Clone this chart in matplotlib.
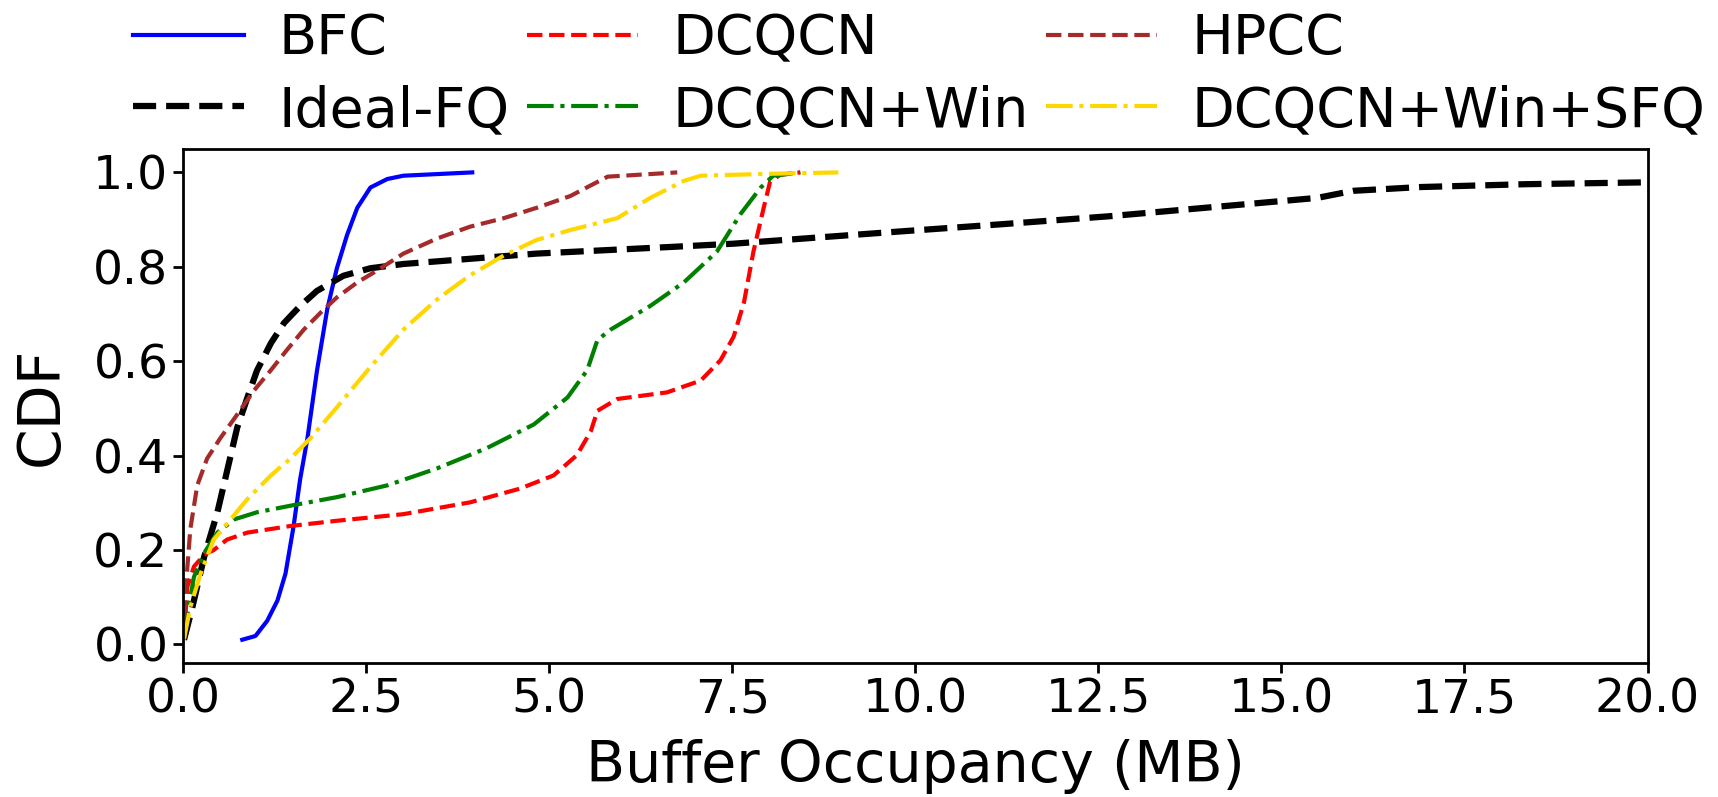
import matplotlib
matplotlib.use("Agg")
import matplotlib.pyplot as plt

bfc_x = [0.81, 0.99, 1.15, 1.29, 1.40, 1.51, 1.60, 1.70, 1.83, 1.97, 2.10, 2.24, 2.38, 2.56, 2.79, 3.01, 3.95]
bfc_y = [0.01, 0.018, 0.05, 0.093, 0.15, 0.25, 0.35, 0.437, 0.58, 0.71, 0.796, 0.867, 0.925, 0.968, 0.986, 0.993, 1.0]

ideal_x = [0.014, 0.13, 0.29, 0.47, 0.60, 0.74, 0.88, 1.01, 1.20, 1.38, 1.60, 1.83, 2.19, 2.56, 3.01, 3.92,
           4.83, 6.65, 7.52, 9.8, 11.16, 12.64, 15.49, 15.98, 16.9, 18.33, 20.0]
ideal_y = [0.01, 0.08, 0.186, 0.28, 0.366, 0.459, 0.523, 0.58, 0.638, 0.681, 0.717, 0.749, 0.781, 0.797, 0.806, 0.817,
           0.828, 0.842, 0.849, 0.875, 0.89, 0.907, 0.946, 0.961, 0.969, 0.975, 0.979]

dcqcn_x = [0.014, 0.06, 0.15, 0.29, 0.42, 0.60, 0.88, 1.47, 2.10, 3.01, 3.92, 4.60, 5.06, 5.38, 5.57, 5.66,
           5.93, 6.61, 7.07, 7.34, 7.52, 7.66, 7.79, 7.93, 8.02, 8.16, 8.43]
dcqcn_y = [0.014, 0.122, 0.165, 0.19, 0.2, 0.222, 0.237, 0.251, 0.262, 0.276, 0.301, 0.33, 0.358, 0.401, 0.452, 0.495,
           0.52, 0.534, 0.559, 0.602, 0.652, 0.724, 0.832, 0.925, 0.982, 0.995, 1.0]

win_x = [0.014, 0.06, 0.15, 0.29, 0.47, 0.70, 1.01, 1.47, 2.10, 2.79, 3.47, 4.15, 4.79, 5.25, 5.52, 5.66,
         5.84, 6.38, 6.84, 7.29, 7.61, 7.89, 8.06, 8.43]
win_y = [0.014, 0.065, 0.143, 0.194, 0.237, 0.265, 0.28, 0.294, 0.312, 0.337, 0.373, 0.416, 0.466, 0.523, 0.581, 0.645,
         0.667, 0.717, 0.767, 0.832, 0.911, 0.968, 0.993, 1.0]

hpcc_x = [0.014, 0.036, 0.10, 0.195, 0.33, 0.51, 0.74, 0.97, 1.20, 1.42, 1.65, 1.88, 2.10, 2.38, 2.65, 3.01,
          3.47, 3.92, 4.38, 4.83, 5.29, 5.60, 5.80, 6.75]
hpcc_y = [0.014, 0.115, 0.244, 0.337, 0.394, 0.437, 0.487, 0.538, 0.581, 0.624, 0.667, 0.703, 0.735, 0.767, 0.792, 0.828,
          0.86, 0.885, 0.903, 0.925, 0.95, 0.975, 0.991, 1.0]

sfq_x = [0.014, 0.10, 0.24, 0.42, 0.65, 0.88, 1.20, 1.47, 1.74, 2.10, 2.56, 3.01, 3.47, 3.92, 4.38, 4.83,
         5.29, 5.93, 6.38, 6.84, 7.07, 7.98, 8.95]
sfq_y = [0.011, 0.079, 0.15, 0.222, 0.265, 0.308, 0.358, 0.394, 0.437, 0.502, 0.588, 0.667, 0.731, 0.782, 0.824, 0.857,
         0.878, 0.903, 0.946, 0.982, 0.993, 0.997, 1.0]

fig = plt.figure(figsize=(17.18, 7.97), dpi=100)
ax = fig.add_axes([0.1065, 0.168, 0.8525, 0.645])

ax.plot(bfc_x, bfc_y, color="blue", linestyle="-", lw=3, label="BFC")
ax.plot(ideal_x, ideal_y, color="black", linestyle="--", lw=4.5, label="Ideal-FQ")
ax.plot(dcqcn_x, dcqcn_y, color="red", linestyle="--", lw=3, label="DCQCN")
ax.plot(win_x, win_y, color="green", linestyle="-.", lw=3, label="DCQCN+Win")
ax.plot(hpcc_x, hpcc_y, color="brown", linestyle="--", lw=3, label="HPCC")
ax.plot(sfq_x, sfq_y, color="gold", linestyle="-.", lw=3, label="DCQCN+Win+SFQ")

ax.set_xlim(0, 20)
ax.set_xticks([0, 2.5, 5, 7.5, 10, 12.5, 15, 17.5, 20])
ax.set_xticklabels(["0.0", "2.5", "5.0", "7.5", "10.0", "12.5", "15.0", "17.5", "20.0"])
ax.set_yticks([0, 0.2, 0.4, 0.6, 0.8, 1.0])
ax.set_yticklabels(["0.0", "0.2", "0.4", "0.6", "0.8", "1.0"])
ax.tick_params(labelsize=34, width=2, length=7)
for s in ax.spines.values():
    s.set_linewidth(2)
ax.set_xlabel("Buffer Occupancy (MB)", fontsize=41, labelpad=12)
ax.set_ylabel("CDF", fontsize=42, labelpad=17)

fig.legend(loc="center", bbox_to_anchor=(0.535, 0.906), ncol=3, frameon=False,
           fontsize=40, handlelength=2.0, handletextpad=0.63, columnspacing=0.3, labelspacing=0.32)

fig.savefig("out.png", dpi=100)
